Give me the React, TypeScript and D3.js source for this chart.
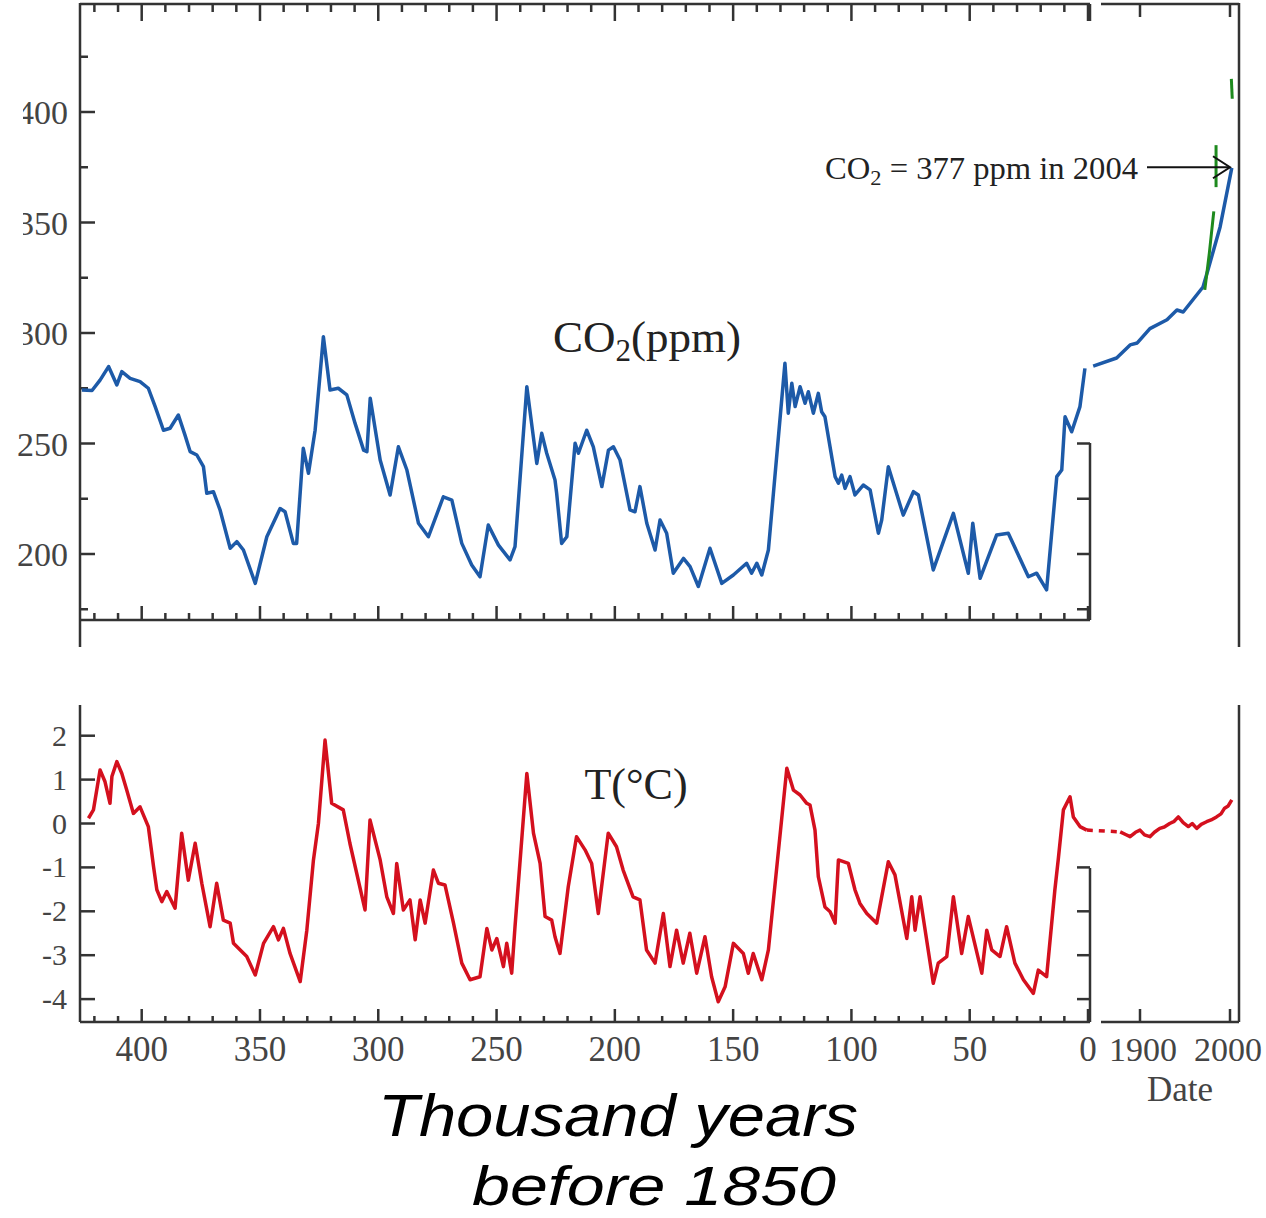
import React from "react";
import * as d3 from "d3";

// ---------- DATA ----------
// Ice-core CO2: [thousand years before 1850, ppm]
const co2IceCore: [number, number][] = [
  [425.3, 274.2], [421, 274], [417.6, 278.7], [414, 284.8], [410.5, 276.5], [408.4, 282.5],
  [404.9, 279.5], [400.7, 278], [397.2, 275], [394.3, 266.7], [390.8, 256], [388, 256.9],
  [384.5, 262.9], [381.7, 253.8], [379.5, 246.3], [376.7, 244.8], [373.9, 239.5], [372.5, 227.5],
  [369.7, 228.2], [366.9, 220], [362.6, 202.6], [359.8, 205.6], [357, 201.8], [352, 186.7],
  [347.1, 207.8], [341.5, 220.6], [339.4, 219.1], [335.9, 204.8], [334.5, 204.8], [331.7, 247.8],
  [329.5, 236.5], [326.7, 256], [323.2, 298.3], [320.4, 274.2], [316.9, 275], [313.3, 272],
  [309.8, 259.1], [306.2, 247], [304.8, 246.3], [303.4, 270.5], [299.2, 242.5], [295, 226.7],
  [291.5, 248.5], [287.9, 238], [283, 213.9], [278.8, 207.8], [272.5, 225.9], [268.9, 224.4],
  [264.7, 204.8], [260.5, 195], [257, 189.7], [253.5, 213.1], [249.2, 204], [244.3, 197.3],
  [242.2, 203.3], [237.2, 275.7], [233, 241], [230.9, 254.6], [228.8, 245.6], [225.3, 233.5],
  [224.6, 227.5], [222.5, 204.8], [220.3, 207.8], [216.8, 250.1], [215.4, 245.6], [211.9, 256],
  [209.1, 248.5], [205.5, 230.5], [202.7, 247], [200.6, 248.5], [197.8, 242.5], [193.6, 220],
  [191.5, 219.1], [189.4, 230.5], [186.5, 213.9], [183, 201.8], [180.9, 215.4], [178.1, 209.4],
  [175.3, 191.3], [171, 198], [168.2, 194.3], [164.7, 185.3], [159.8, 202.6], [154.8, 186.7],
  [149.9, 190.5], [144.3, 195.8], [142.2, 191.3], [140, 195.8], [137.9, 190.5], [135.1, 201.8],
  [128.1, 286.3], [126.7, 263.7], [125.2, 277.3], [123.8, 266.7], [121.7, 275.7], [119.6, 268.2],
  [118.2, 273.4], [116.1, 263.7], [114, 272.7], [112.6, 264.4], [111.2, 262.1], [106.9, 235],
  [105.5, 232], [104.1, 235.7], [102.7, 229.7], [100.6, 235], [98.5, 226.7], [95, 231.2],
  [92.1, 229], [88.6, 209.4], [87.2, 215.4], [84.4, 239.5], [78.1, 217.6], [73.8, 228.2],
  [71.7, 226.7], [65.4, 192.8], [56.9, 218.4], [50.6, 191.3], [48.7, 213.9], [45.6, 189],
  [38.6, 208.6], [33.7, 209.4], [25.2, 189.7], [21.7, 191.3], [17.5, 183.8], [13.2, 235],
  [11.1, 238], [9.7, 262.1], [6.9, 255.3], [3.4, 266.7], [1.3, 284],
];

// Modern CO2: [year, ppm]
const co2Modern: [number, number][] = [
  [1848, 285], [1874, 288.7], [1889, 294.6], [1897, 295.5], [1911, 302], [1930, 306],
  [1941, 310.4], [1948, 309.5], [1970, 320.8], [1975.5, 328.5], [1989, 348], [2002, 374.7],
];

// Fragments of the green (direct measurement) record: [year, ppm] pairs
const co2GreenFragments: [number, number][][] = [
  [[2001.5, 415], [2002.5, 406]],
  [[1984.5, 385], [1984.5, 366]],
  [[1972, 319.5], [1977, 336], [1982, 355]],
];

// Ice-core temperature anomaly: [thousand years before 1850, °C]
const tempIceCore: [number, number][] = [
  [422.5, 0.12], [420.4, 0.31], [417.6, 1.22], [415.5, 0.95], [413.4, 0.46], [412.6, 1.07],
  [410.5, 1.41], [408.4, 1.14], [406.3, 0.76], [403.5, 0.23], [400.7, 0.38], [397.2, -0.07],
  [395, -0.98], [393.6, -1.51], [391.5, -1.78], [389.4, -1.55], [385.9, -1.93], [383.1, -0.22],
  [380.3, -1.29], [377.4, -0.45], [374.6, -1.36], [371.1, -2.35], [368.3, -1.36], [365.5, -2.2],
  [362.6, -2.27], [361.2, -2.73], [355.6, -3.03], [352, -3.45], [348.5, -2.73], [344.3, -2.35],
  [342.2, -2.65], [340.1, -2.39], [337.3, -2.96], [333, -3.6], [330.2, -2.43], [327.4, -0.83],
  [325.3, 0], [322.5, 1.9], [319.7, 0.46], [314.8, 0.31], [312, -0.45], [305.6, -1.97],
  [303.5, 0.08], [299.2, -0.83], [296.4, -1.67], [293.6, -2.05], [292.2, -0.91], [289.4, -1.97],
  [286.6, -1.74], [284.4, -2.65], [282.3, -1.74], [280.2, -2.27], [276.7, -1.06], [274.6, -1.36],
  [271.8, -1.4], [268.2, -2.27], [264.7, -3.18], [261.2, -3.56], [257, -3.49], [254.1, -2.39],
  [252, -2.88], [249.9, -2.62], [247.1, -3.26], [245.7, -2.73], [243.6, -3.41], [242.2, -2.35],
  [237.2, 1.14], [234.4, -0.22], [231.6, -0.91], [229.5, -2.12], [226.7, -2.2], [225.3, -2.58],
  [223.2, -2.96], [219.7, -1.44], [216.2, -0.3], [212.6, -0.6], [209.8, -0.91], [207, -2.05],
  [202.8, -0.22], [199.3, -0.53], [196.5, -1.06], [192.3, -1.67], [189.4, -1.74], [186.6, -2.88],
  [183, -3.18], [179.5, -2.05], [176.7, -3.26], [173.9, -2.43], [171.1, -3.18], [168.3, -2.5],
  [165.4, -3.41], [161.9, -2.58], [159.1, -3.49], [156.3, -4.06], [153.4, -3.72], [149.9, -2.73],
  [145.7, -2.96], [143.6, -3.41], [141.5, -2.96], [137.9, -3.56], [135.1, -2.88], [127.3, 1.26],
  [124.5, 0.76], [121.7, 0.65], [118.9, 0.46], [117.5, 0.42], [115.4, -0.15], [114, -1.21],
  [111.2, -1.9], [109, -2.01], [106.9, -2.27], [105.5, -0.83], [101.3, -0.91], [98.5, -1.51],
  [96.4, -1.82], [93.5, -2.05], [89.3, -2.27], [84.4, -0.87], [81.6, -1.17], [76.6, -2.62],
  [74.5, -1.67], [73.1, -2.43], [71, -1.67], [65.4, -3.64], [63.3, -3.18], [59.7, -3.03],
  [56.9, -1.67], [53.4, -2.96], [50.6, -2.12], [44.9, -3.41], [42.8, -2.43], [40.7, -2.88],
  [37.2, -3.03], [34.4, -2.35], [30.9, -3.18], [27.3, -3.56], [23.1, -3.87], [21, -3.34],
  [17.5, -3.49], [14, -1.51], [12.6, -0.83], [10.4, 0.31], [7.6, 0.61], [6.2, 0.15],
  [3.4, -0.07], [0.5, -0.15],
];

// Instrumental temperature: [year, °C]
const tempModern: [number, number][] = [
  [1878, -0.19], [1884, -0.25], [1889, -0.3], [1895, -0.2], [1900, -0.15], [1905, -0.26],
  [1911, -0.3], [1916, -0.2], [1922, -0.11], [1927, -0.08], [1933, 0], [1938, 0.05],
  [1942.6, 0.15], [1948, 0.02], [1953.7, -0.07], [1958, 0.0], [1963, -0.11], [1968, -0.02],
  [1974, 0.04], [1979, 0.08], [1985, 0.15], [1990, 0.22], [1994, 0.35], [1998, 0.4], [2002, 0.54],
];

const kyrMajorTicks = [400, 350, 300, 250, 200, 150, 100, 50, 0];
const kyrMinorTicks = [420, 410, 390, 380, 370, 360, 340, 330, 320, 310, 290, 280, 270, 260, 240, 230, 220, 210, 190, 180, 170, 160, 140, 130, 120, 110, 90, 80, 70, 60, 40, 30, 20, 10];
const co2MajorTicks = [400, 350, 300, 250, 200];
const co2MinorTicks = [425, 375, 325, 275, 225, 175];
const co2RightTicks = [250, 225, 200, 175];
const tempTicks = [2, 1, 0, -1, -2, -3, -4];
const tempRightTicks = [-1, -2, -3, -4];
const yearTicks = [1900, 2000];

// ---------- SCALES ----------
const xK = d3.scaleLinear().domain([400, 0]).range([141.7, 1088]);
const xY = d3.scaleLinear().domain([1900, 2000]).range([1140, 1230]);
const yC = d3.scaleLinear().domain([200, 400]).range([554, 112]);
const yT = d3.scaleLinear().domain([0, 1]).range([823.5, 779.6]);

const AX = "#333";
const SERIF = "'Liberation Serif', 'Times New Roman', serif";
const BLUE = "#1d5aa8";
const RED = "#d4101e";

export default function App() {
  const co2Line = d3.line<[number, number]>().x(d => xK(d[0])).y(d => yC(d[1]));
  const co2ModLine = d3.line<[number, number]>().x(d => xY(d[0])).y(d => yC(d[1]));
  const tLine = d3.line<[number, number]>().x(d => xK(d[0])).y(d => yT(d[1]));
  const tModLine = d3.line<[number, number]>().x(d => xY(d[0])).y(d => yT(d[1]));

  const left = 80;
  const rightA = 1090;
  const leftB = 1101;
  const rightB = 1239;
  const topTop = 4;
  const topBottom = 620;
  const botTop = 705;
  const botBottom = 1022;

  const lastIce = tempIceCore[tempIceCore.length - 1];
  const firstMod = tempModern[0];

  return (
    <div style={{ position: "absolute", left: 0, top: 0 }}>
      <svg width={1266} height={1218} style={{ display: "block", background: "#fff" }}>
        <defs>
          <clipPath id="lblclip">
            <rect x={23} y={0} width={100} height={700} />
          </clipPath>
        </defs>
        {/* ===== TOP PANEL (CO2) ===== */}
        <g stroke={AX} strokeWidth={2.5} fill="none">
          <line x1={left} y1={3} x2={left} y2={647} />
          <line x1={left} y1={topTop} x2={rightA} y2={topTop} />
          <line x1={left} y1={topBottom} x2={rightA} y2={topBottom} />
          <line x1={rightA} y1={443} x2={rightA} y2={topBottom} />
          <line x1={rightA} y1={topTop} x2={rightA} y2={topTop + 17} />
          <line x1={leftB} y1={topTop} x2={rightB} y2={topTop} />
          <line x1={rightB} y1={3} x2={rightB} y2={647} />
          {kyrMajorTicks.map(k => (
            <g key={"tm" + k}>
              <line x1={xK(k)} y1={topTop} x2={xK(k)} y2={topTop + 17} />
              <line x1={xK(k)} y1={topBottom} x2={xK(k)} y2={topBottom - 14} />
            </g>
          ))}
          {kyrMinorTicks.map(k => (
            <g key={"tn" + k}>
              <line x1={xK(k)} y1={topTop} x2={xK(k)} y2={topTop + 8} />
              <line x1={xK(k)} y1={topBottom} x2={xK(k)} y2={topBottom - 7} />
            </g>
          ))}
          {co2MajorTicks.map(v => (
            <line key={"cm" + v} x1={left} y1={yC(v)} x2={left + 15} y2={yC(v)} />
          ))}
          {co2MinorTicks.map(v => (
            <line key={"cn" + v} x1={left} y1={yC(v)} x2={left + 8} y2={yC(v)} />
          ))}
          {co2RightTicks.map(v => (
            <line key={"cr" + v} x1={rightA} y1={yC(v)} x2={rightA - 13} y2={yC(v)} />
          ))}
          {yearTicks.map(y => (
            <line key={"yt" + y} x1={xY(y)} y1={topTop} x2={xY(y)} y2={topTop + 13} />
          ))}
        </g>
        {co2MajorTicks.map(v => (
          <text key={"cl" + v} x={68} y={yC(v) + 12} textAnchor="end" fontFamily={SERIF} fontSize={34} fill="#444"
            clipPath={v >= 300 ? "url(#lblclip)" : undefined}>
            {v}
          </text>
        ))}

        <path d={co2Line(co2IceCore) || ""} fill="none" stroke={BLUE} strokeWidth={3.5} strokeLinejoin="round" />
        <path d={co2ModLine(co2Modern) || ""} fill="none" stroke={BLUE} strokeWidth={3.5} strokeLinejoin="round" />
        {co2GreenFragments.map((f, i) => (
          <path key={"g" + i} d={co2ModLine(f) || ""} fill="none" stroke="#1e8a1e" strokeWidth={3} />
        ))}

        <text x={553} y={352} fontFamily={SERIF} fontSize={45} fill="#222">
          <tspan>CO</tspan>
          <tspan dy={9} fontSize={31}>2</tspan>
          <tspan dy={-9}>(ppm)</tspan>
        </text>

        <text x={825} y={179} fontFamily={SERIF} fontSize={32} fill="#222" textLength={313} lengthAdjust="spacingAndGlyphs">
          <tspan>CO</tspan>
          <tspan dy={6} fontSize={22}>2</tspan>
          <tspan dy={-6}> = 377 ppm in 2004</tspan>
        </text>
        <g stroke="#111" strokeWidth={2} fill="none">
          <line x1={1147} y1={yC(375)} x2={xY(2000)} y2={yC(375)} />
          <polyline points={`${xY(2000) - 17},${yC(375) - 11} ${xY(2000)},${yC(375)} ${xY(2000) - 17},${yC(375) + 11}`} />
        </g>

        {/* ===== BOTTOM PANEL (T) ===== */}
        <g stroke={AX} strokeWidth={2.5} fill="none">
          <line x1={left} y1={botTop} x2={left} y2={botBottom} />
          <line x1={left} y1={botBottom} x2={rightA} y2={botBottom} />
          <line x1={rightA} y1={868} x2={rightA} y2={botBottom} />
          <line x1={leftB} y1={botBottom} x2={rightB} y2={botBottom} />
          <line x1={rightB} y1={botTop} x2={rightB} y2={botBottom} />
          {kyrMajorTicks.map(k => (
            <line key={"bm" + k} x1={xK(k)} y1={botBottom} x2={xK(k)} y2={botBottom - 13} />
          ))}
          {kyrMinorTicks.map(k => (
            <line key={"bn" + k} x1={xK(k)} y1={botBottom} x2={xK(k)} y2={botBottom - 6} />
          ))}
          {tempTicks.map(v => (
            <line key={"tt" + v} x1={left} y1={yT(v)} x2={left + 15} y2={yT(v)} />
          ))}
          {tempRightTicks.map(v => (
            <line key={"tr" + v} x1={rightA} y1={yT(v)} x2={rightA - 13} y2={yT(v)} />
          ))}
          {yearTicks.map(y => (
            <line key={"yb" + y} x1={xY(y)} y1={botBottom} x2={xY(y)} y2={botBottom - 13} />
          ))}
        </g>
        {tempTicks.map(v => (
          <text key={"tl" + v} x={67} y={yT(v) + 10} textAnchor="end" fontFamily={SERIF} fontSize={30} fill="#444">
            {v < 0 ? "-" + Math.abs(v) : v}
          </text>
        ))}
        {kyrMajorTicks.map(k => (
          <text key={"kl" + k} x={xK(k)} y={1061} textAnchor="middle" fontFamily={SERIF} fontSize={35} fill="#444">
            {k}
          </text>
        ))}
        {yearTicks.map(y => (
          <text key={"yl" + y} x={y === 2000 ? xY(y) - 2 : xY(y) + 3} y={1061} textAnchor="middle" fontFamily={SERIF} fontSize={34} fill="#444">
            {y}
          </text>
        ))}
        <text x={1180} y={1101} textAnchor="middle" fontFamily={SERIF} fontSize={35} fill="#444">Date</text>

        <path d={tLine(tempIceCore) || ""} fill="none" stroke={RED} strokeWidth={3.5} strokeLinejoin="round" />
        <path d={tModLine(tempModern) || ""} fill="none" stroke={RED} strokeWidth={3.5} strokeLinejoin="round" />
        <line x1={xK(lastIce[0])} y1={yT(lastIce[1])} x2={xY(firstMod[0])} y2={yT(firstMod[1])} stroke={RED} strokeWidth={3.5} strokeDasharray="6,6" />

        <text x={636} y={799} textAnchor="middle" fontFamily={SERIF} fontSize={44} fill="#222">T(°C)</text>

        {/* ===== X LABEL ===== */}
        <text x={378} y={1136} fontFamily="'Liberation Sans', Arial, sans-serif" fontStyle="italic" fontSize={60} fill="#000" textLength={480} lengthAdjust="spacingAndGlyphs">
          Thousand years
        </text>
        <text x={472} y={1205} fontFamily="'Liberation Sans', Arial, sans-serif" fontStyle="italic" fontSize={56} fill="#000" textLength={364} lengthAdjust="spacingAndGlyphs">
          before 1850
        </text>
      </svg>
    </div>
  );
}
